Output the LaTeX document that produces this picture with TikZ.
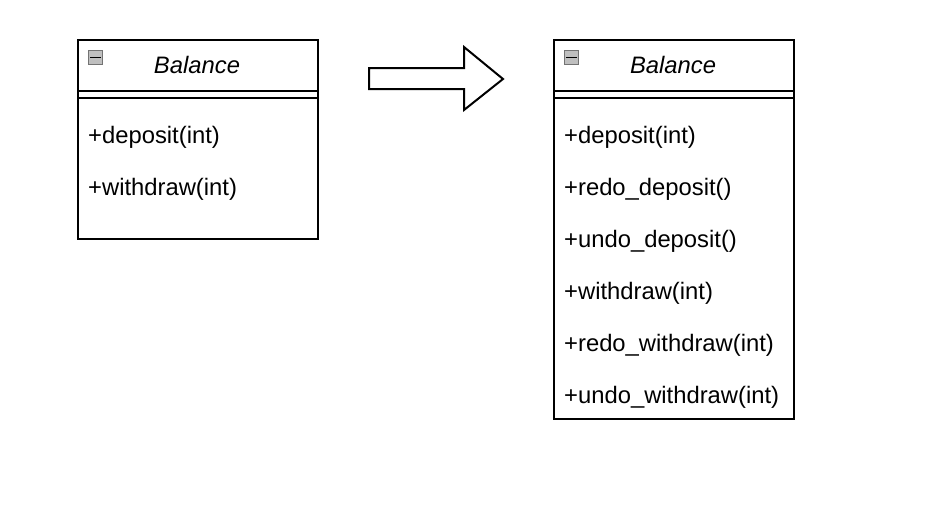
\documentclass[tikz,border=0pt]{standalone}
\usepackage{fontspec}
\setmainfont{Liberation Sans}
\begin{document}
\begin{tikzpicture}[x=1pt,y=-1pt,
  box/.style={draw=black,line width=2pt,fill=white,anchor=north west,inner sep=0pt,minimum width=239.5pt},
  member/.style={anchor=base west,inner sep=0pt,font=\fontsize{23.8}{28}\selectfont},
  title/.style={anchor=base,inner sep=0pt,font=\fontsize{23.8}{28}\selectfont\itshape},
  icon/.style={draw=gray!90!black,fill=gray!50,line width=0.8pt,minimum size=14pt,inner sep=0pt,anchor=north west}]
\useasboundingbox (0,0) rectangle (928,528);
% left class
\node[box,minimum height=198.5pt] (L) at (77,39) {};
\draw[line width=2pt] (L.west |- 0,91) -- (L.east |- 0,91);
\draw[line width=2pt] (L.west |- 0,98) -- (L.east |- 0,98);
\node[icon] (Li) at (88,50) {};
\draw[line width=1.6pt] ([xshift=2pt]Li.west) -- ([xshift=-2pt]Li.east);
\node[title] (Lt) at (197,73) {Balance};
\node[member] (L1) at (88,143) {+deposit(int)};
\node[member] (L2) at (88,195) {+withdraw(int)};
% arrow
\draw[line width=2pt,fill=white,line join=miter] (369,68) -- (464,68) -- (464,47) -- (503,79) -- (464,110) -- (464,89) -- (369,89) -- cycle;
% right class
\node[box,minimum height=378.5pt] (R) at (553,39) {};
\draw[line width=2pt] (R.west |- 0,91) -- (R.east |- 0,91);
\draw[line width=2pt] (R.west |- 0,98) -- (R.east |- 0,98);
\node[icon] (Ri) at (564,50) {};
\draw[line width=1.6pt] ([xshift=2pt]Ri.west) -- ([xshift=-2pt]Ri.east);
\node[title] (Rt) at (673,73) {Balance};
\node[member] (R1) at (564,143) {+deposit(int)};
\node[member] (R2) at (564,195) {+redo\_deposit()};
\node[member] (R3) at (564,247) {+undo\_deposit()};
\node[member] (R4) at (564,299) {+withdraw(int)};
\node[member] (R5) at (564,351) {+redo\_withdraw(int)};
\node[member] (R6) at (564,403) {+undo\_withdraw(int)};
\end{tikzpicture}
\end{document}
